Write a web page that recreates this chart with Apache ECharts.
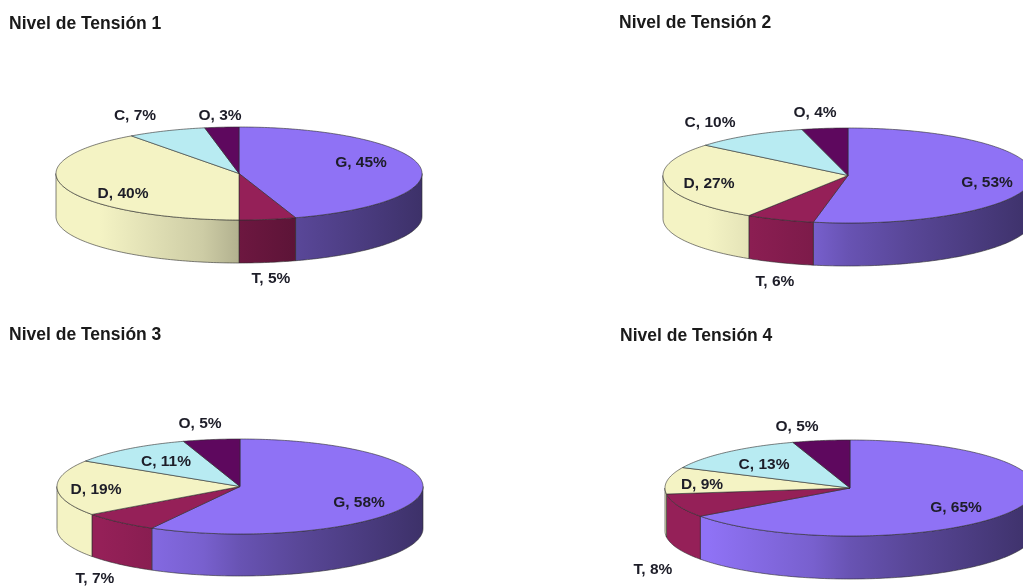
<!DOCTYPE html>
<html>
<head>
<meta charset="utf-8">
<style>html,body{margin:0;padding:0;background:#fff}#chart{width:1023px;height:588px}</style>
<script src="https://cdn.jsdelivr.net/npm/echarts@6/dist/echarts.min.js"></script>
</head>
<body>
<div id="chart"></div>
<script>
// Share of each category per voltage level, in percent
var categories = ['G', 'T', 'D', 'C', 'O'];
var titles = ['Nivel de Tensión 1', 'Nivel de Tensión 2', 'Nivel de Tensión 3', 'Nivel de Tensión 4'];
var level1 = [45, 5, 40, 7, 3];
var level2 = [53, 6, 27, 10, 4];
var level3 = [58, 7, 19, 11, 5];
var level4 = [65, 8, 9, 13, 5];
var levels = [level1, level2, level3, level4];

// Slice colours, in category order
var palette = [[143, 114, 245], [149, 32, 88], [244, 243, 196], [184, 235, 242], [94, 8, 94]];

// Disc geometry and label placement for each panel
var discs = [
  { cx: 239, cy: 173.5, rx: 183, ry: 46.5, depth: 43 },
  { cx: 848, cy: 175.5, rx: 185, ry: 47.5, depth: 43 },
  { cx: 240, cy: 486.5, rx: 183, ry: 47.5, depth: 42 },
  { cx: 850, cy: 488, rx: 185, ry: 48, depth: 43 }
];
var titlePlaces = [[9, 15], [619, 14], [9, 326], [620, 327]];
var labelPlaces = [
  [[361, 163], [271, 279], [123, 194], [135, 116], [220, 116]],
  [[987, 183], [775, 282], [709, 184], [710, 123], [815, 113]],
  [[359, 503], [95, 579], [96, 490], [166, 462], [200, 424]],
  [[956, 508], [653, 570], [702, 485], [764, 465], [797, 427]]
];

// Brightness of the rim across the disc width, left to right
var rimShade = [[0, 1], [0.12, 1], [0.4, 0.84], [0.5, 0.73], [0.66, 0.62], [1, 0.43]];

function rgb(c, k) {
  return 'rgb(' + Math.round(c[0] * k) + ',' + Math.round(c[1] * k) + ',' + Math.round(c[2] * k) + ')';
}

// Point on an ellipse; turns run clockwise from twelve o'clock
function rimPoint(d, turn, dy) {
  var a = turn * 2 * Math.PI;
  return [d.cx + d.rx * Math.sin(a), d.cy - d.ry * Math.cos(a) + (dy || 0)];
}

function arcPoints(d, t0, t1, dy) {
  var steps = Math.max(2, Math.ceil((t1 - t0) * 360));
  var pts = [];
  for (var i = 0; i <= steps; i++) {
    pts.push(rimPoint(d, t0 + (t1 - t0) * i / steps, dy));
  }
  return pts;
}

var edge = { stroke: 'rgba(45,45,45,0.75)', lineWidth: 0.8 };

function renderSlice(levelIdx, params, api) {
  var cat = api.value(0);
  var value = api.value(1);
  var values = levels[levelIdx];
  var d = discs[levelIdx];
  var before = 0;
  for (var i = 0; i < cat; i++) before += values[i];
  var total = values.reduce(function (s, v) { return s + v; }, 0);
  var t0 = before / total;
  var t1 = (before + value) / total;
  var color = palette[cat];
  var children = [];

  // Rim: only the front half of the disc shows
  var s0 = Math.max(t0, 0.25);
  var s1 = Math.min(t1, 0.75);
  if (s1 > s0) {
    var upper = arcPoints(d, s0, s1, 0);
    var lower = arcPoints(d, s0, s1, d.depth).reverse();
    children.push({
      type: 'polygon',
      shape: { points: upper.concat(lower) },
      style: {
        fill: new echarts.graphic.LinearGradient(d.cx - d.rx, 0, d.cx + d.rx, 0,
          rimShade.map(function (s) { return { offset: s[0], color: rgb(color, s[1]) }; }), true),
        stroke: edge.stroke,
        lineWidth: edge.lineWidth
      }
    });
  }

  // Top face
  children.push({
    type: 'polygon',
    shape: { points: [[d.cx, d.cy]].concat(arcPoints(d, t0, t1, 0)) },
    style: { fill: rgb(color, 1), stroke: edge.stroke, lineWidth: edge.lineWidth }
  });

  var place = labelPlaces[levelIdx][cat];
  children.push({
    type: 'text',
    z2: 20,
    x: place[0],
    y: place[1],
    style: {
      text: categories[cat] + ', ' + value + '%',
      fill: '#1d1d28',
      font: 'bold 15.5px "Liberation Sans", Arial, sans-serif',
      align: 'center',
      verticalAlign: 'middle'
    }
  });
  return { type: 'group', children: children };
}

var option = {
  animation: false,
  backgroundColor: '#ffffff',
  title: titles.map(function (t, i) {
    return {
      text: t,
      left: titlePlaces[i][0],
      top: titlePlaces[i][1],
      padding: 0,
      textStyle: { fontFamily: '"Liberation Sans", Arial, sans-serif', fontWeight: 'bold', fontSize: 17.5, color: '#1a1a1a' }
    };
  }),
  series: levels.map(function (values, idx) {
    return {
      type: 'custom',
      name: titles[idx],
      coordinateSystem: 'none',
      silent: true,
      renderItem: function (params, api) { return renderSlice(idx, params, api); },
      data: values.map(function (v, c) { return [c, v]; })
    };
  })
};

echarts.init(document.getElementById('chart')).setOption(option);
</script>
</body>
</html>
